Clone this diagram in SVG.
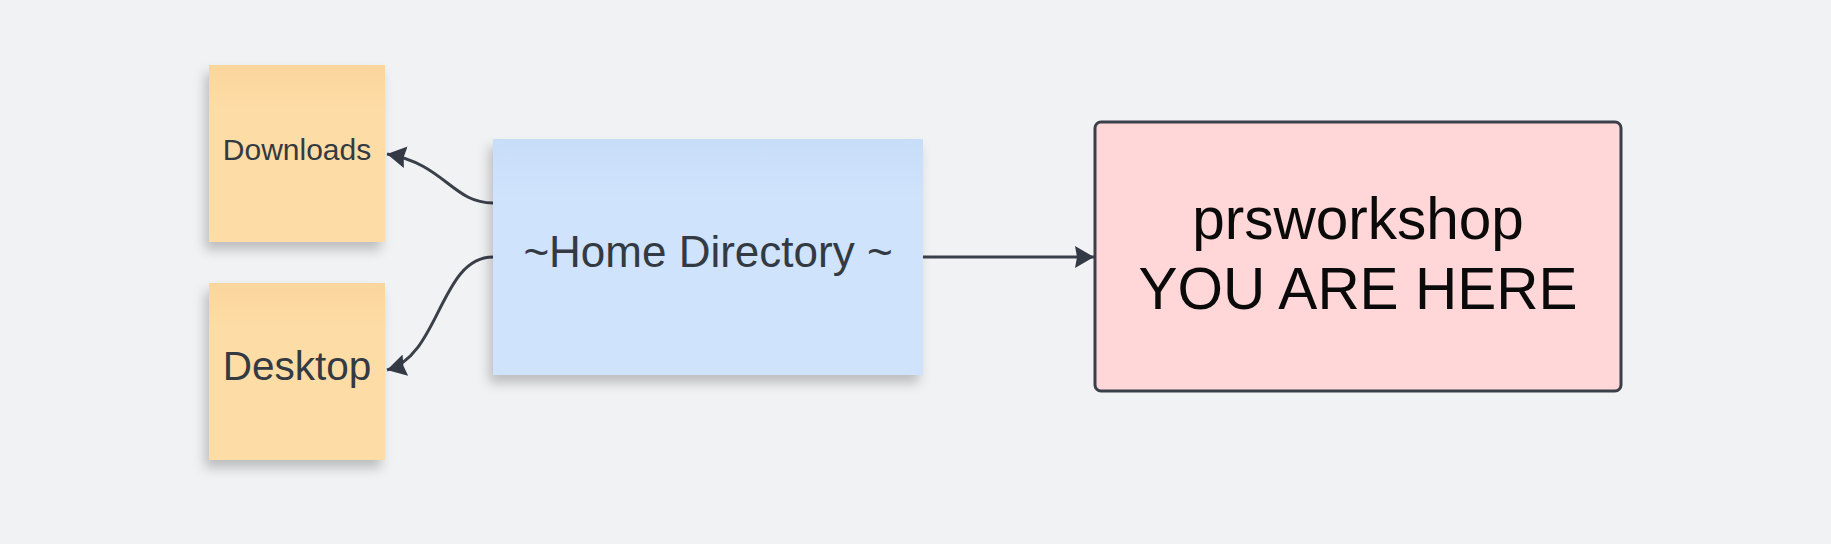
<svg xmlns="http://www.w3.org/2000/svg" width="1831" height="544" viewBox="0 0 1831 544">
<style>
.lbl{font-family:"Liberation Sans",Arial,sans-serif;fill:#333a42;text-anchor:middle}
.conn{fill:none;stroke:#3a404a;stroke-width:3}
</style>
<defs>
<linearGradient id="gY" x1="0" y1="0" x2="0" y2="1"><stop offset="0" stop-color="#fad69d"/><stop offset="0.25" stop-color="#fedca5"/><stop offset="1" stop-color="#fedca5"/></linearGradient>
<linearGradient id="gB" x1="0" y1="0" x2="0" y2="1"><stop offset="0" stop-color="#c8ddf8"/><stop offset="0.25" stop-color="#cfe3fd"/><stop offset="1" stop-color="#cfe3fd"/></linearGradient>
<filter id="sh" x="-20%" y="-20%" width="140%" height="150%"><feDropShadow dx="-4" dy="8" stdDeviation="6" flood-color="#000" flood-opacity="0.22"/></filter>
<marker id="ah" viewBox="0 0 19 22" refX="19" refY="11" markerWidth="19" markerHeight="22" markerUnits="userSpaceOnUse" orient="auto"><path d="M0,0 L19,11 L0,22 L2,11 Z" fill="#343a45"/></marker>
</defs>
<rect width="1831" height="544" fill="#f1f2f4"/>
<g id="connectors">
<path class="conn" d="M493,203 C452,203 445,164 387,154" marker-end="url(#ah)"/>
<path class="conn" d="M493,257 C440,257 440,356 387,370" marker-end="url(#ah)"/>
<path class="conn" d="M923,257 L1094,257" marker-end="url(#ah)"/>
</g>
<g id="downloads">
<rect x="209" y="65" width="176" height="177" fill="url(#gY)" filter="url(#sh)"/>
<text class="lbl" x="297" y="160" font-size="30">Downloads</text>
</g>
<g id="desktop">
<rect x="209" y="283" width="176" height="177" fill="url(#gY)" filter="url(#sh)"/>
<text class="lbl" x="297" y="380" font-size="40.5">Desktop</text>
</g>
<g id="home">
<rect x="493" y="139" width="430" height="236" fill="url(#gB)" filter="url(#sh)"/>
<text class="lbl" x="708" y="267" font-size="44">~Home Directory ~</text>
</g>
<g id="prsworkshop">
<rect x="1095" y="122" width="526" height="269" rx="6" fill="#ffd7d8" stroke="#3a404a" stroke-width="3"/>
<text class="lbl" x="1358" y="239" font-size="58.5" style="fill:#0a0a0a">prsworkshop</text>
<text class="lbl" x="1358" y="309" font-size="58.5" style="fill:#0a0a0a">YOU ARE HERE</text>
</g>
</svg>
